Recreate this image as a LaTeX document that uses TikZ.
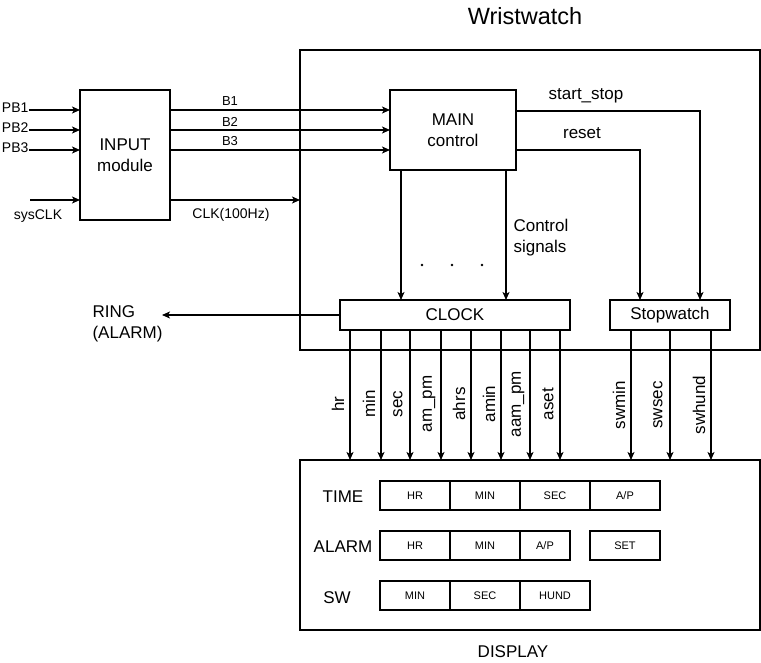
\documentclass[tikz,border=0pt]{standalone}
\usepackage{fontspec}
\setmainfont{Liberation Sans}
\usetikzlibrary{arrows.meta}
\begin{document}
\begin{tikzpicture}[x=1pt,y=-1pt,line width=1.1pt,
  arr/.style={-{Stealth[length=8pt,width=7pt,inset=2pt]}},
  box/.style={draw,inner sep=0pt,outer sep=0pt,anchor=north west},
  big/.style={font=\fontsize{17}{21}\selectfont},
  small/.style={font=\fontsize{14}{17}\selectfont},
  blbl/.style={font=\fontsize{13}{16}\selectfont},
  cell/.style={draw,inner sep=0pt,outer sep=0pt,anchor=north west,minimum height=29pt,font=\fontsize{11}{13}\selectfont},
]
\useasboundingbox (0,0) rectangle (761,663);
% main boxes
\node[box,minimum width=460pt,minimum height=300pt] (ww) at (300,50) {};
\node[font=\fontsize{23.5}{28}\selectfont] (title) at (525,16) {Wristwatch};
\node[box,big,minimum width=90pt,minimum height=130pt,align=center] (inp) at (80,90) {INPUT\\module};
\node[box,big,minimum width=126pt,minimum height=80pt,align=center] (main) at (390,90) {MAIN\\control};
\node[box,big,minimum width=230pt,minimum height=30pt] (clock) at (340,300) {CLOCK};
\node[box,big,minimum width=120pt,minimum height=30pt] (sw) at (610,300) {Stopwatch};
\node[box,minimum width=460pt,minimum height=170pt] (disp) at (300,460) {};
\node[big] (displbl) at (513,652) {DISPLAY};
% inputs
\foreach \n/\t/\y in {pb1/PB1/110,pb2/PB2/130,pb3/PB3/150}{
  \coordinate (c\n) at (29,\y);
  \node[small,anchor=east,inner sep=0pt] (\n) at (29,{\y-2}) {\t};
  \draw[arr] (c\n) -- (c\n -| inp.west);
}
\coordinate (sysin) at (30,200);
\draw[arr] (sysin) -- (sysin -| inp.west);
\node[small] (syslbl) at (38,216) {sysCLK};
% B lines
\foreach \n/\t/\y/\ly in {b1/B1/110/101,b2/B2/130/121.5,b3/B3/150/141.5}{
  \coordinate (\n) at (0,\y);
  \draw[arr] (inp.east |- \n) -- (main.west |- \n);
  \node[blbl] (l\n) at (230,\ly) {\t};
}
\draw[arr] (inp.east |- sysin) -- (ww.west |- sysin);
\node[small] (clklbl) at (231,215) {CLK(100Hz)};
% start_stop and reset
\coordinate (ss) at ([yshift=-21pt]main.north east);
\coordinate (ssx) at ([xshift=90pt]sw.north west);
\draw[arr] (ss) -| (ssx);
\node[big,anchor=base] (sslbl) at (586,100) {start\_stop};
\coordinate (rs) at ([yshift=-60pt]main.north east);
\coordinate (rsx) at ([xshift=30pt]sw.north west);
\draw[arr] (rs) -| (rsx);
\node[big,anchor=base] (rslbl) at (582,139) {reset};
% main to clock
\coordinate (ml) at ([xshift=11pt]main.south west);
\coordinate (mr) at ([xshift=-10pt]main.south east);
\draw[arr] (ml) -- (ml |- clock.north);
\draw[arr] (mr) -- (mr |- clock.north);
\node[big,align=left,anchor=west,inner sep=0pt] (ctl) at (513,238) {Control\\signals};
\foreach \x in {422,452,482} \fill (\x,265) circle (1.3pt);
% ring
\coordinate (ringend) at (162,315);
\draw[arr] (clock.west) -- (ringend);
\node[big,align=left,anchor=west,inner sep=0pt] (ring) at (92,324) {RING\\(ALARM)};
% outputs
\foreach \x/\t in {350/hr,381/min,410/sec,441/am\_pm,471/ahrs,501/amin,530/aam\_pm,560/aset}{
  \coordinate (o) at (\x,0);
  \draw[arr] (clock.south -| o) -- (disp.north -| o);
  \node[big,rotate=90] at ({\x-12},404) {\t};
}
\foreach \x/\t in {631/swmin,670/swsec,711/swhund}{
  \coordinate (o) at (\x,0);
  \draw[arr] (sw.south -| o) -- (disp.north -| o);
  \node[big,rotate=90] at ({\x-12},405) {\t};
}
% display rows
\node[big] (tlbl) at (343,497) {TIME};
\node[big] (albl) at (343,547) {ALARM};
\node[big] (slbl) at (337,598) {SW};
\node[cell,minimum width=70pt] (t1) at (380,481) {HR};
\node[cell,minimum width=70pt] (t2) at (450,481) {MIN};
\node[cell,minimum width=70pt] (t3) at (520,481) {SEC};
\node[cell,minimum width=70pt] (t4) at (590,481) {A/P};
\node[cell,minimum width=70pt] (a1) at (380,531) {HR};
\node[cell,minimum width=70pt] (a2) at (450,531) {MIN};
\node[cell,minimum width=50pt] (a3) at (520,531) {A/P};
\node[cell,minimum width=70pt] (a4) at (590,531) {SET};
\node[cell,minimum width=70pt] (s1) at (380,581) {MIN};
\node[cell,minimum width=70pt] (s2) at (450,581) {SEC};
\node[cell,minimum width=70pt] (s3) at (520,581) {HUND};
\end{tikzpicture}
\end{document}
